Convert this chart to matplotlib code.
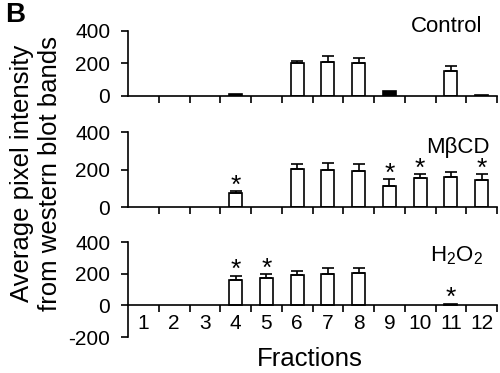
import matplotlib.pyplot as plt
import numpy as np

plt.rcParams['font.family'] = ['Liberation Sans', 'DejaVu Sans']

fractions = np.arange(1, 13)
frac_labels = [str(i) for i in fractions]

control_mean = [0, 0, 0, 12, 0, 201, 209, 201, 28, 0, 154, 8]
control_err = [0, 0, 0, 0, 0, 15, 37, 35, 0, 0, 31, 0]
control_sig = []

mbcd_mean = [0, 0, 0, 73, 0, 203, 200, 192, 112, 153, 158, 144]
mbcd_err = [0, 0, 0, 12, 0, 24, 36, 35, 36, 21, 30, 30]
mbcd_sig = [4, 9, 10, 12]

h2o2_mean = [0, 0, 0, 160, 175, 192, 198, 202, 0, 0, 10, 0]
h2o2_err = [0, 0, 0, 27, 23, 25, 35, 31, 0, 0, 0, 0]
h2o2_sig = [4, 5, 11]

panels = [
    ("Control", control_mean, control_err, control_sig, (0, 400), [0, 200, 400]),
    ("MβCD", mbcd_mean, mbcd_err, mbcd_sig, (0, 400), [0, 200, 400]),
    (r"H$_\mathregular{2}$O$_\mathregular{2}$", h2o2_mean, h2o2_err, h2o2_sig, (-200, 400), [-200, 0, 200, 400]),
]
# [left, bottom, width, height] in figure coords
boxes = [
    [0.256, 0.743, 0.738, 0.174],
    [0.256, 0.445, 0.738, 0.201],
    [0.256, 0.0965, 0.738, 0.2545],
]
# baseline positions of the panel names
name_pos = [(0.964, 0.914), (0.98, 0.59), (0.966, 0.298)]

fig = plt.figure(figsize=(5, 3.73), dpi=100)
bw = 0.42
lw = 1.2

for k, (name, mean, err, sig, ylim, yt) in enumerate(panels):
    ax = fig.add_axes(boxes[k])
    mean = np.array(mean)
    shown = mean > 0
    # very short bars come out solid black in the original
    fc = ['black' if m < 40 else 'white' for m in mean[shown]]
    ax.bar(fractions[shown], mean[shown], width=bw, color=fc, edgecolor='black',
           linewidth=lw, zorder=2)
    for x, m, e in zip(fractions, mean, err):
        if e > 0:
            ax.errorbar(x, m, yerr=[[0], [e]], fmt='none', ecolor='black',
                        elinewidth=lw, capsize=4.6, capthick=lw, zorder=3)
    for s in sig:
        top = mean[s - 1] + err[s - 1]
        ax.annotate('*', (s, top), xytext=(0, -1), textcoords='offset points',
                    ha='center', va='baseline', fontsize=19)
    ax.set_xlim(0.5, 12.5)
    ax.set_ylim(*ylim)
    ax.set_yticks(yt)
    ax.set_yticklabels([str(v) for v in yt])
    for sp in ['top', 'right']:
        ax.spines[sp].set_visible(False)
    ax.spines['left'].set_linewidth(lw)
    ax.spines['bottom'].set_linewidth(lw)
    ax.spines['bottom'].set_position(('data', 0))
    ax.set_xticks(np.arange(1.5, 13, 1))
    ax.set_xticklabels([])
    ax.tick_params(axis='both', which='major', direction='out', length=4.8, width=lw,
                   labelsize=15, pad=8)
    if k == 2:
        ax.set_xticks(fractions, minor=True)
        ax.set_xticklabels(frac_labels, minor=True)
        ax.tick_params(axis='x', which='minor', length=0, labelsize=15, pad=6)
    fig.text(name_pos[k][0], name_pos[k][1], name, ha='right', va='baseline', fontsize=16)

fig.text(0.01, 0.995, "B", fontsize=20, fontweight='bold', ha='left', va='top')
fig.text(0.072, 0.535, "Average pixel intensity\nfrom western blot bands", rotation=90,
         ha='center', va='center', fontsize=18.5, linespacing=1.2)
fig.text(0.62, 0.005, "Fractions", ha='center', va='bottom', fontsize=18.5)

fig.savefig("out.png", dpi=100)
